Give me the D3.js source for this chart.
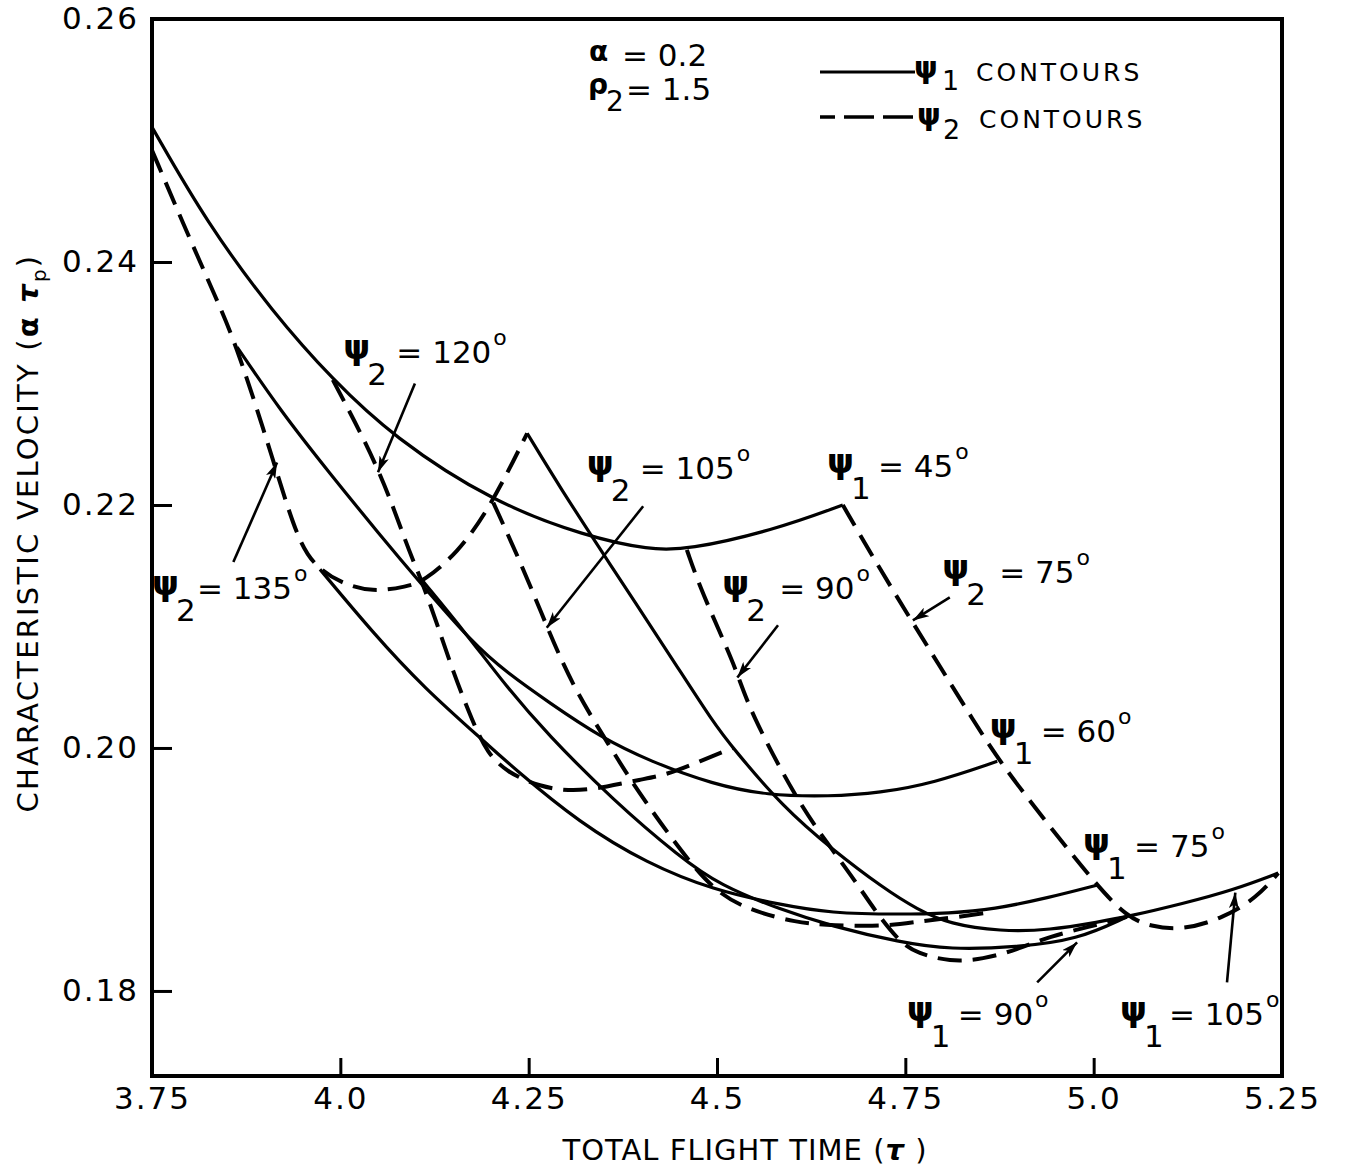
<!DOCTYPE html>
<html>
<head>
<meta charset="utf-8">
<script src="https://cdn.jsdelivr.net/npm/d3@7"></script>
<style>
  body { margin: 0; background: #fff; }
  svg { display: block; background: #fff; }
  text { font-family: "DejaVu Sans", sans-serif; fill: #000; }
  .tick text { font-size: 31px; letter-spacing: 2px; }
  .lbl { font-size: 31px; }
  .psi { font-size: 34px; font-weight: bold; }
  .deg { font-size: 22px; }
  .axis-title { font-size: 29px; letter-spacing: 1px; }
  .legend-text { font-size: 25px; letter-spacing: 3px; }
</style>
</head>
<body>
<svg id="chart" width="1356" height="1167"></svg>
<script>
// Axis ticks
const xTickValues = [3.75, 4.0, 4.25, 4.5, 4.75, 5.0, 5.25];
const xTickLabels = ["3.75", "4.0", "4.25", "4.5", "4.75", "5.0", "5.25"];
const yTickValues = [0.18, 0.20, 0.22, 0.24, 0.26];
const yTickLabels = ["0.18", "0.20", "0.22", "0.24", "0.26"];

// psi1 contours (solid): [total flight time, characteristic velocity]
const psi1_45 = [[3.750,0.2511],[3.823,0.2432],[3.911,0.2358],[3.990,0.2303],[4.070,0.2256],[4.203,0.2202],[4.327,0.2174],[4.411,0.2163],[4.460,0.2163],[4.574,0.2179],[4.667,0.2200]];
const psi1_60 = [[3.863,0.2330],[3.920,0.2278],[3.986,0.2226],[4.053,0.2175],[4.106,0.2136],[4.176,0.2086],[4.221,0.2062],[4.278,0.2037],[4.345,0.2009],[4.411,0.1989],[4.495,0.1970],[4.566,0.1961],[4.650,0.1960],[4.716,0.1963],[4.787,0.1971],[4.872,0.1989]];
const psi1_75 = [[3.973,0.2147],[4.043,0.2095],[4.110,0.2050],[4.199,0.2001],[4.229,0.1984],[4.318,0.1938],[4.407,0.1905],[4.495,0.1883],[4.584,0.1871],[4.650,0.1864],[4.743,0.1863],[4.809,0.1864],[4.866,0.1867],[4.942,0.1877],[5.004,0.1887]];
const psi1_90 = [[4.110,0.2137],[4.166,0.2095],[4.221,0.2050],[4.274,0.2012],[4.362,0.1957],[4.451,0.1910],[4.504,0.1887],[4.584,0.1867],[4.654,0.1853],[4.743,0.1840],[4.809,0.1834],[4.898,0.1836],[4.978,0.1842],[5.044,0.1861]];
const psi1_105 = [[4.248,0.2259],[4.292,0.2214],[4.354,0.2155],[4.442,0.2072],[4.495,0.2021],[4.521,0.2000],[4.588,0.1951],[4.654,0.1916],[4.720,0.1885],[4.766,0.1867],[4.809,0.1855],[4.876,0.1849],[4.942,0.1850],[5.008,0.1857],[5.044,0.1861],[5.119,0.1872],[5.185,0.1883],[5.245,0.1897]];

// psi2 contours (dashed)
const psi2_135 = [[3.750,0.2492],[3.791,0.2432],[3.836,0.2369],[3.863,0.2330],[3.911,0.2237],[3.946,0.2165],[3.973,0.2147],[4.000,0.2136],[4.043,0.2128],[4.089,0.2133],[4.110,0.2137],[4.155,0.2160],[4.199,0.2198],[4.248,0.2259]];
const psi2_120 = [[3.990,0.2303],[4.053,0.2229],[4.089,0.2165],[4.106,0.2141],[4.128,0.2103],[4.150,0.2062],[4.176,0.2021],[4.195,0.1996],[4.221,0.1980],[4.265,0.1968],[4.309,0.1964],[4.354,0.1968],[4.398,0.1974],[4.434,0.1978],[4.477,0.1989],[4.521,0.2000]];
const psi2_105 = [[4.203,0.2202],[4.242,0.2149],[4.274,0.2100],[4.309,0.2050],[4.358,0.2001],[4.394,0.1965],[4.451,0.1916],[4.495,0.1883],[4.540,0.1867],[4.606,0.1856],[4.654,0.1854],[4.720,0.1853],[4.766,0.1857],[4.809,0.1860],[4.866,0.1865]];
const psi2_90 = [[4.460,0.2163],[4.477,0.2133],[4.504,0.2095],[4.527,0.2062],[4.544,0.2030],[4.606,0.1957],[4.646,0.1922],[4.683,0.1891],[4.712,0.1864],[4.743,0.1840],[4.766,0.1831],[4.809,0.1824],[4.853,0.1826],[4.898,0.1834],[4.942,0.1845],[4.995,0.1853],[5.044,0.1861]];
const psi2_75 = [[4.667,0.2200],[4.707,0.2157],[4.752,0.2111],[4.796,0.2067],[4.840,0.2023],[4.876,0.1988],[4.942,0.1935],[5.004,0.1887],[5.044,0.1861],[5.075,0.1853],[5.119,0.1850],[5.172,0.1860],[5.217,0.1877],[5.245,0.1897]];

const W = 1356, H = 1167;
const svg = d3.select("#chart");
const x = d3.scaleLinear().domain([3.75, 5.25]).range([152, 1282]);
const y = d3.scaleLinear().domain([0.173, 0.26]).range([1076, 19]);

const defs = svg.append("defs");
defs.append("marker")
  .attr("id", "arrowhead")
  .attr("viewBox", "0 0 16 10")
  .attr("refX", 16).attr("refY", 5)
  .attr("markerWidth", 16).attr("markerHeight", 10)
  .attr("markerUnits", "userSpaceOnUse")
  .attr("orient", "auto")
  .append("path")
  .attr("d", "M0,0 L16,5 L0,10 L4,5 Z")
  .attr("fill", "#000");

// Axes with inward ticks
const yAxis = d3.axisLeft(y)
  .tickValues(yTickValues)
  .tickFormat((d, i) => yTickLabels[i])
  .tickSize(-20).tickPadding(13);
const gy = svg.append("g").attr("transform", `translate(${x(3.75)},0)`).call(yAxis);
gy.select(".domain").remove();
gy.selectAll(".tick line").attr("stroke", "#000").attr("stroke-width", 3);

const xAxis = d3.axisBottom(x)
  .tickValues(xTickValues)
  .tickFormat((d, i) => xTickLabels[i])
  .tickSize(-18).tickPadding(11);
const gx = svg.append("g").attr("transform", `translate(0,${y(0.173)})`).call(xAxis);
gx.select(".domain").remove();
gx.selectAll(".tick line").attr("stroke", "#000").attr("stroke-width", 3);

svg.selectAll(".tick text").attr("fill", "#000")
  .style("font-family", '"DejaVu Sans", sans-serif');

// Frame
svg.append("rect")
  .attr("x", x(3.75)).attr("y", y(0.26))
  .attr("width", x(5.25) - x(3.75)).attr("height", y(0.173) - y(0.26))
  .attr("fill", "none").attr("stroke", "#000").attr("stroke-width", 4);

const plot = svg.append("g");
const line = d3.line()
  .x(d => x(d[0])).y(d => y(d[1]))
  .curve(d3.curveBasis);

plot.selectAll("path.solid")
  .data([psi1_45, psi1_60, psi1_75, psi1_90, psi1_105])
  .join("path").attr("class", "solid")
  .attr("d", line).attr("fill", "none")
  .attr("stroke", "#000").attr("stroke-width", 3.2)
  .attr("stroke-linejoin", "round");

plot.selectAll("path.dashed")
  .data([psi2_135, psi2_120, psi2_105, psi2_90, psi2_75])
  .join("path").attr("class", "dashed")
  .attr("d", line).attr("fill", "none")
  .attr("stroke", "#000").attr("stroke-width", 4)
  .attr("stroke-dasharray", "24,11");

// Contour labels
function psiLabel(sub, val, t, v, eqDx) {
  const g = plot.append("g").attr("transform", `translate(${x(t)},${y(v)})`);
  g.append("text").attr("class", "psi").attr("x", 0).attr("y", -4).text("ψ");
  g.append("text").attr("class", "lbl").attr("x", 24).attr("y", 22).text(sub);
  const eq = g.append("text").attr("class", "lbl").attr("x", eqDx).attr("y", 0).text("= " + val);
  const w = eq.node().getComputedTextLength();
  g.append("text").attr("class", "deg").attr("x", eqDx + w + 2).attr("y", -18).text("o");
}
psiLabel("2", "120", 4.004, 0.2317, 53);
psiLabel("2", "135", 3.750, 0.2123, 45);
psiLabel("2", "105", 4.327, 0.2221, 53);
psiLabel("1", "45", 4.646, 0.2223, 51);
psiLabel("2", "90", 4.507, 0.2123, 57);
psiLabel("2", "75", 4.799, 0.2136, 57);
psiLabel("1", "60", 4.862, 0.2005, 51);
psiLabel("1", "75", 4.986, 0.1910, 51);
psiLabel("1", "90", 4.752, 0.1772, 51);
psiLabel("1", "105", 5.035, 0.1772, 49);

// Leader arrows: [from, to] in data units
const arrows = [
  [[4.099, 0.2300], [4.050, 0.2227]],
  [[3.858, 0.2153], [3.916, 0.2235]],
  [[4.402, 0.2199], [4.274, 0.2099]],
  [[4.581, 0.2101], [4.527, 0.2058]],
  [[4.809, 0.2124], [4.760, 0.2105]],
  [[4.925, 0.1807], [4.978, 0.1840]],
  [[5.177, 0.1807], [5.188, 0.1881]]
];
plot.selectAll("line.arrow").data(arrows).join("line").attr("class", "arrow")
  .attr("x1", d => x(d[0][0])).attr("y1", d => y(d[0][1]))
  .attr("x2", d => x(d[1][0])).attr("y2", d => y(d[1][1]))
  .attr("stroke", "#000").attr("stroke-width", 2.6)
  .attr("marker-end", "url(#arrowhead)");

// Parameters
const params = svg.append("g");
params.append("text").attr("class", "psi").attr("x", 589).attr("y", 61).style("font-size", "28px").text("α");
params.append("text").attr("class", "lbl").attr("x", 622).attr("y", 66).text("= 0.2");
params.append("text").attr("class", "psi").attr("x", 588).attr("y", 94).style("font-size", "28px").text("ρ");
params.append("text").attr("class", "lbl").attr("x", 606).attr("y", 111).style("font-size", "28px").text("2");
params.append("text").attr("class", "lbl").attr("x", 626).attr("y", 100).text("= 1.5");

// Legend
const legend = svg.append("g");
legend.append("line").attr("x1", 820).attr("x2", 915).attr("y1", 72).attr("y2", 72)
  .attr("stroke", "#000").attr("stroke-width", 3);
legend.append("line").attr("x1", 820).attr("x2", 913).attr("y1", 117).attr("y2", 117)
  .attr("stroke", "#000").attr("stroke-width", 3.5)
  .attr("stroke-dasharray", "30,9").attr("stroke-dashoffset", 15);
legend.append("text").attr("class", "psi").attr("x", 914).attr("y", 78).style("font-size", "30px").text("ψ");
legend.append("text").attr("class", "legend-text").attr("x", 942).attr("y", 90).style("font-size", "27px").text("1");
legend.append("text").attr("class", "legend-text").attr("x", 976).attr("y", 81).text("CONTOURS");
legend.append("text").attr("class", "psi").attr("x", 917).attr("y", 125).style("font-size", "30px").text("ψ");
legend.append("text").attr("class", "legend-text").attr("x", 943).attr("y", 139).style("font-size", "27px").text("2");
legend.append("text").attr("class", "legend-text").attr("x", 979).attr("y", 128).text("CONTOURS");

// Axis titles
const xt = svg.append("text").attr("class", "axis-title")
  .attr("x", 745).attr("y", 1160).attr("text-anchor", "middle");
xt.append("tspan").text("TOTAL FLIGHT TIME (");
xt.append("tspan").style("font-weight", "bold").style("font-style", "italic").text("τ");
xt.append("tspan").text(" )");

const yt = svg.append("text").attr("class", "axis-title")
  .style("letter-spacing", "2.2px")
  .attr("transform", "translate(38,533) rotate(-90)").attr("text-anchor", "middle");
yt.append("tspan").text("CHARACTERISTIC VELOCITY (");
yt.append("tspan").style("font-weight", "bold").text("α ");
yt.append("tspan").style("font-weight", "bold").style("font-style", "italic").text("τ");
yt.append("tspan").attr("dy", 8).style("font-size", "20px").text("p");
yt.append("tspan").attr("dy", -8).text(")");
</script>
</body>
</html>
